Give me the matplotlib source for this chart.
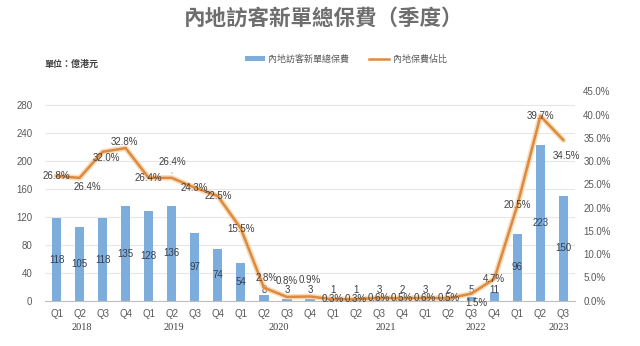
import matplotlib.pyplot as plt
from matplotlib.lines import Line2D
from matplotlib.patches import Patch
from matplotlib.ticker import FuncFormatter

cjk = ['Noto Sans CJK TC', 'DejaVu Sans']
num_font = ['Liberation Sans', 'DejaVu Sans']

# 季度、保費（億港元）、佔比（%）
quarters = ['Q1', 'Q2', 'Q3', 'Q4'] * 5 + ['Q1', 'Q2', 'Q3']
years = ['2018', '2019', '2020', '2021', '2022', '2023']
premium = [118, 105, 118, 135, 128, 136, 97, 74, 54, 8, 3, 3,
           1, 1, 3, 2, 3, 2, 5, 11, 96, 223, 150]
share = [26.8, 26.4, 32.0, 32.8, 26.4, 26.4, 24.3, 22.5, 15.5, 2.8, 0.8, 0.9,
         0.3, 0.3, 0.6, 0.5, 0.6, 0.5, 1.5, 4.7, 20.5, 39.7, 34.5]

# 年份標籤的水平位置與百分比標籤的偏移（像素）
year_x = [1.1, 5.1, 9.65, 14.3, 18.2, 21.8]
pct_offset = [(0, 0), (8, -9), (4, -6), (-1, 6), (0, 0), (1, 16), (0, 0),
              (0, 0), (0, 0), (3, 10), (0, 16), (0, 16), (0, 0), (0, 0),
              (0, 0), (0, 0), (0, 0), (0, 0), (5, -9), (0, 0), (0, 0),
              (0, 0), (3, -16)]

bar_color = '#7DADDD'
line_color = '#DE8A3E'
text_gray = '#595959'

fig = plt.figure(figsize=(6.4, 3.46), dpi=100)
ax = fig.add_axes([0.0703, 0.131, 0.8281, 0.605])
x = list(range(len(premium)))

ax.bar(x, premium, width=0.4, color=bar_color, zorder=2)
ax.set_xlim(-0.5, len(x) - 0.5)
ax.set_ylim(0, 300)
ax.set_yticks(range(0, 281, 40))
ax.set_xticks(x)
ax.set_xticklabels(quarters)
ax.tick_params(length=0, labelsize=7, labelcolor=text_gray, pad=6)
ax.tick_params(axis='y', pad=9)
for lab in ax.get_xticklabels() + ax.get_yticklabels():
    lab.set_family(num_font)
ax.yaxis.grid(True, color='#E6E6E6', lw=0.8, zorder=0)
ax.set_axisbelow(True)
for s in ['left', 'right', 'top']:
    ax.spines[s].set_visible(False)
ax.spines['bottom'].set_color('#BFBFBF')

for xi, v in zip(x, premium):
    ax.text(xi, max(v / 2, 16), str(v), ha='center', va='center',
            fontsize=7, color='#33404F', family=num_font, zorder=5)

for yx, yr in zip(year_x, years):
    ax.text(yx, -0.13, yr, transform=ax.get_xaxis_transform(), ha='center',
            va='center', fontsize=7.5, color='#404040', family='Liberation Serif')

ax2 = ax.twinx()
ax2.plot(x, [s / 100 for s in share], color='#F4C58C', lw=4, alpha=0.6,
         solid_capstyle='round', zorder=3)
ax2.plot(x, [s / 100 for s in share], color=line_color, lw=1.8,
         solid_capstyle='round', zorder=4)
ax2.set_ylim(0, 0.45)
ax2.set_yticks([i * 0.05 for i in range(10)])
ax2.yaxis.set_major_formatter(FuncFormatter(lambda v, p: f'{v * 100:.1f}%'))
ax2.tick_params(length=0, labelsize=7, labelcolor=text_gray, pad=6)
for lab in ax2.get_yticklabels():
    lab.set_family(num_font)
for s in ax2.spines.values():
    s.set_visible(False)

for i, (xi, s) in enumerate(zip(x, share)):
    dx, dy = pct_offset[i]
    arrow = None
    if dy > 12 and i == 5:
        arrow = dict(arrowstyle='-', color='#9A9A9A', lw=0.6, shrinkA=2, shrinkB=3)
    ax2.annotate(f'{s:.1f}%', (xi, s / 100), xytext=(dx, dy),
                 textcoords='offset pixels', ha='center', va='center',
                 fontsize=7, color='#404040', family=num_font,
                 arrowprops=arrow, zorder=6)

fig.text(0.506, 0.948, '內地訪客新單總保費（季度）', ha='center', va='center',
         fontsize=15.5, fontweight='bold', color='#6E6E6E', family=cjk)
fig.text(0.07, 1 - 64 / 346, '單位：億港元', ha='left', va='center',
         fontsize=6.5, fontweight='bold', color='#404040', family=cjk)

handles = [Patch(facecolor=bar_color, edgecolor='none'),
           Line2D([0], [0], color=line_color, lw=1.8)]
fig.legend(handles, ['內地訪客新單總保費', '內地保費佔比'], loc='center',
           bbox_to_anchor=(0.54, 1 - 59 / 346), ncol=2, frameon=False,
           prop={'family': cjk, 'size': 6.5}, labelcolor=text_gray,
           handlelength=2.2, handleheight=0.6, columnspacing=2.2,
           handletextpad=0.4)

fig.savefig('out.png', dpi=100, facecolor='white')
